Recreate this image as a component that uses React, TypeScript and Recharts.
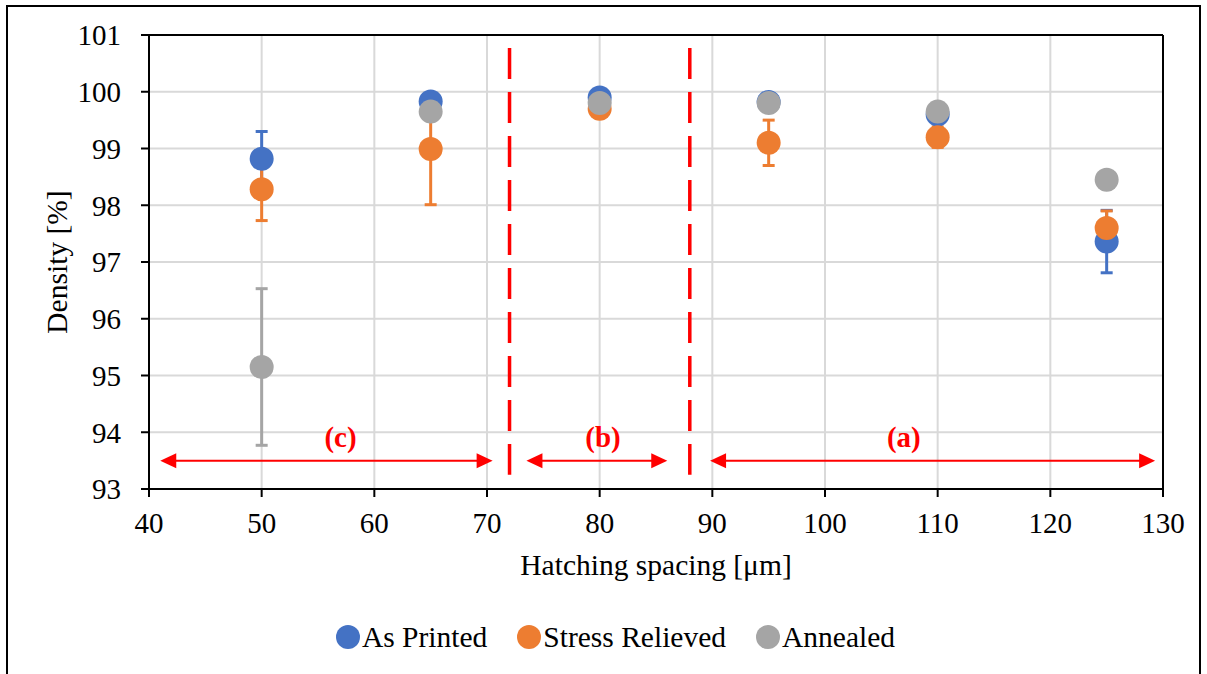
import {
  CartesianGrid,
  ErrorBar,
  Label,
  ReferenceDot,
  ReferenceLine,
  Scatter,
  ScatterChart,
  XAxis,
  YAxis,
} from "recharts";

// Density vs hatching spacing, three heat-treatment states, mean ± error.
const spacing = [50, 65, 80, 95, 110, 125];

const asPrinted = [98.82, 99.83, 99.9, 99.82, 99.6, 97.36];
const asPrintedErr = [0.48, 0.1, 0.05, 0.05, 0.1, 0.55];

const stressRelieved = [98.28, 98.99, 99.7, 99.1, 99.2, 97.6];
const stressRelievedErr = [0.55, 0.98, 0.05, 0.4, 0.18, 0.3];

const annealed = [95.15, 99.65, 99.8, 99.8, 99.65, 98.45];
const annealedErr = [1.38, 0.1, 0.05, 0.05, 0.05, 0.05];

const xTicks = [40, 50, 60, 70, 80, 90, 100, 110, 120, 130];
const yTicks = [93, 94, 95, 96, 97, 98, 99, 100, 101];

// process-window boundaries and the regions between them
const boundaries = [72, 88];
const regions = [
  { name: "(c)", from: 41, to: 70.5, labelX: 57 },
  { name: "(b)", from: 73.5, to: 86, labelX: 80.3 },
  { name: "(a)", from: 89.8, to: 129.3, labelX: 107 },
];

const FONT = '"Liberation Serif", "Times New Roman", serif';
const RED = "#ff0000";

const series = [
  { name: "As Printed", values: asPrinted, err: asPrintedErr, color: "#4472c4" },
  { name: "Stress Relieved", values: stressRelieved, err: stressRelievedErr, color: "#ed7d31" },
  { name: "Annealed", values: annealed, err: annealedErr, color: "#a5a5a5" },
];

const toPoints = (values: number[], err: number[]) =>
  spacing.map((x, i) => ({ x, y: values[i], err: err[i] }));

const tick = { fontFamily: FONT, fontSize: 29, fill: "#000" };

function ArrowShape(props: any) {
  const { x1, y1, x2, y2 } = props;
  const len = 16;
  const half = 7.5;
  return (
    <g>
      <line x1={x1 + len - 2} y1={y1} x2={x2 - len + 2} y2={y2} stroke={RED} strokeWidth={2} />
      <polygon points={`${x1},${y1} ${x1 + len},${y1 - half} ${x1 + len},${y1 + half}`} fill={RED} />
      <polygon points={`${x2},${y2} ${x2 - len},${y2 - half} ${x2 - len},${y2 + half}`} fill={RED} />
    </g>
  );
}

function Dot(color: string) {
  return (p: any) => <circle cx={p.cx} cy={p.cy} r={12} fill={color} />;
}

export default function App() {
  return (
    <div style={{ position: "relative", width: 1207, height: 674, overflow: "hidden", background: "#fff" }}>
      <style>{`body{margin:0}`}</style>
      <div
        style={{
          position: "absolute",
          left: 6,
          top: 5,
          width: 1195,
          height: 720,
          border: "2px solid #000",
          boxSizing: "border-box",
        }}
      />
      <div style={{ position: "absolute", left: 0, top: 0 }}>
        <ScatterChart width={1207} height={674} margin={{ top: 35, right: 44, left: 39, bottom: 145 }}>
          <CartesianGrid stroke="#d9d9d9" strokeWidth={2} />
          <XAxis
            type="number"
            dataKey="x"
            domain={[40, 130]}
            ticks={xTicks}
            allowDataOverflow
            height={40}
            tick={tick}
            tickSize={8}
            tickMargin={15}
            stroke="#000"
            strokeWidth={2}
          >
            <Label
              content={({ viewBox }: any) => (
                <text
                  x={viewBox.x + viewBox.width / 2}
                  y={575}
                  textAnchor="middle"
                  fontFamily={FONT}
                  fontSize={29.5}
                  fill="#000"
                >
                  Hatching spacing [μm]
                </text>
              )}
            />
          </XAxis>
          <YAxis
            type="number"
            dataKey="y"
            domain={[93, 101]}
            ticks={yTicks}
            allowDataOverflow
            width={110}
            tick={tick}
            tickSize={8}
            tickMargin={20}
            stroke="#000"
            strokeWidth={2}
          >
            <Label
              content={({ viewBox }: any) => {
                const cx = 67;
                const cy = viewBox.y + viewBox.height / 2;
                return (
                  <text
                    x={cx}
                    y={cy}
                    textAnchor="middle"
                    transform={`rotate(-90 ${cx} ${cy})`}
                    fontFamily={FONT}
                    fontSize={29.5}
                    fill="#000"
                  >
                    Density [%]
                  </text>
                );
              }}
            />
          </YAxis>
          <ReferenceLine y={101} stroke="#000" strokeWidth={2} />
          <ReferenceLine x={130} stroke="#000" strokeWidth={2} />

          {boundaries.map((b) => (
            <ReferenceLine
              key={b}
              segment={[
                { x: b, y: 100.77 },
                { x: b, y: 93.25 },
              ]}
              stroke={RED}
              strokeWidth={3.5}
              strokeDasharray="31 13"
            />
          ))}
          {regions.map((r) => (
            <ReferenceLine
              key={r.name}
              segment={[
                { x: r.from, y: 93.5 },
                { x: r.to, y: 93.5 },
              ]}
              shape={ArrowShape}
            />
          ))}
          {regions.map((r) => (
            <ReferenceDot
              key={r.name + "-label"}
              x={r.labelX}
              y={93.92}
              r={0}
              shape={(p: any) => (
                <text
                  x={p.cx}
                  y={p.cy}
                  textAnchor="middle"
                  dominantBaseline="central"
                  fontFamily={FONT}
                  fontSize={29}
                  fontWeight="bold"
                  fill={RED}
                >
                  {r.name}
                </text>
              )}
            />
          ))}

          {series.map((s) => (
            <Scatter
              key={s.name}
              name={s.name}
              data={toPoints(s.values, s.err)}
              fill={s.color}
              shape={Dot(s.color)}
              isAnimationActive={false}
            >
              <ErrorBar
                dataKey="err"
                direction="y"
                width={6}
                strokeWidth={3}
                stroke={s.color}
                isAnimationActive={false}
              />
            </Scatter>
          ))}
        </ScatterChart>
      </div>

      {/* legend */}
      <div
        style={{
          position: "absolute",
          top: 619,
          left: 12,
          width: 1207,
          display: "flex",
          justifyContent: "center",
          gap: 30,
          fontFamily: FONT,
          fontSize: 29.5,
          lineHeight: "36px",
          color: "#000",
        }}
      >
        {series.map((s) => (
          <div key={s.name} style={{ display: "flex", alignItems: "center" }}>
            <span
              style={{
                display: "inline-block",
                width: 24,
                height: 24,
                borderRadius: 12,
                background: s.color,
                marginRight: 2,
              }}
            />
            {s.name}
          </div>
        ))}
      </div>
    </div>
  );
}
